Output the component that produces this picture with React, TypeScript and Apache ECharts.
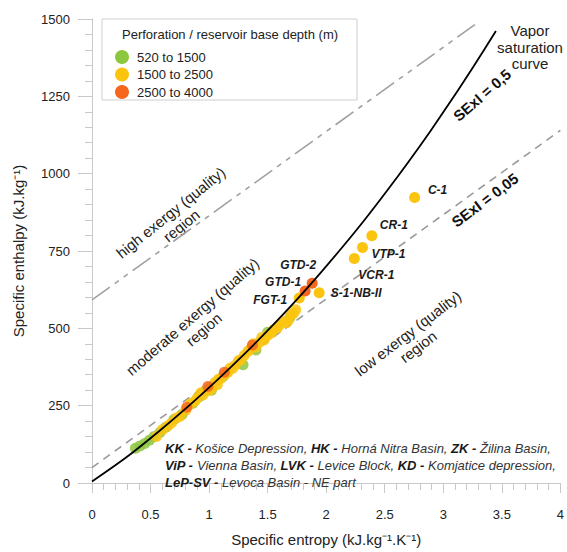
import React, { useEffect, useRef } from "react";
import * as echarts from "echarts";

const FONT = "'Liberation Sans', Arial, sans-serif";

// Tick labels / axis ranges
const xTicks = [0, 0.5, 1, 1.5, 2, 2.5, 3, 3.5, 4];
const yTicks = [0, 250, 500, 750, 1000, 1250, 1500];

// Depth classes (legend)
const depthClasses = ["520 to 1500", "1500 to 2500", "2500 to 4000"];
const depthColors = ["#8dc63f", "#fbc40f", "#f6661c"];

// Wells, [specific entropy, specific enthalpy]
const greenPoints: number[][] = [
  [0.37, 112], [0.41, 120], [0.45, 128], [0.49, 138], [0.53, 150], [0.58, 163],
  [0.63, 180], [0.7, 205], [0.77, 222], [0.86, 258], [0.92, 280], [0.97, 298],
  [1.02, 300], [1.12, 345], [1.29, 382], [1.4, 430], [1.5, 487], [1.69, 535],
];
const yellowPoints: number[][] = [
  [0.55, 150], [0.6, 172], [0.65, 185], [0.68, 195], [0.72, 210], [0.75, 215],
  [0.8, 235], [0.84, 255], [0.88, 265], [0.9, 275], [0.93, 292], [0.95, 285],
  [1.0, 300], [1.02, 305], [1.05, 325], [1.07, 318], [1.08, 335], [1.1, 338],
  [1.14, 352], [1.16, 358], [1.18, 372], [1.2, 370], [1.22, 380], [1.25, 395],
  [1.27, 398], [1.3, 412], [1.33, 425], [1.35, 432], [1.38, 450], [1.4, 440],
  [1.43, 455], [1.45, 470], [1.47, 462], [1.5, 478], [1.53, 485], [1.55, 495],
  [1.58, 500], [1.6, 510], [1.63, 522], [1.66, 518], [1.68, 528], [1.7, 545],
  [1.72, 548], [1.74, 560],
];
const orangePoints: number[][] = [
  [0.81, 245], [0.99, 312], [1.13, 358], [1.37, 446],
];

// Named wells
const namedWells = ["FGT-1", "S-1-NB-II", "VCR-1", "VTP-1", "CR-1", "C-1", "GTD-1", "GTD-2"];
const namedEntropy = [1.77, 1.94, 2.24, 2.31, 2.39, 2.755, 1.82, 1.88];
const namedEnthalpy = [598, 615, 726, 761, 799, 923, 621, 646];
const namedClass = [1, 1, 1, 1, 1, 1, 2, 2];

// Label placement (pixels), kept apart from data
const labelOffsets: Record<string, number[]> = {
  "FGT-1": [-29, 2],
  "S-1-NB-II": [37, 0],
  "VCR-1": [22, 17],
  "VTP-1": [26, 6],
  "CR-1": [22, -11],
  "C-1": [23, -7],
  "GTD-1": [-22, -9],
  "GTD-2": [-14, -18],
};

// Saturation curve (h-s)
const curveEntropy = [0, 0.2965, 0.5724, 0.8312, 1.0754, 1.3069, 1.5279, 1.7392, 1.9426, 2.1392, 2.3305, 2.5177, 2.702, 2.8849, 3.0685, 3.2552, 3.4494];
const curveEnthalpy = [5, 84, 167.5, 251, 335, 419, 504, 589, 675.5, 763, 852, 944, 1038, 1135, 1237, 1345, 1461];

// Exergy lines
const sexi005Line: number[][] = [[0, 50], [4, 1140]];
const highLine: number[][] = [[0, 592], [3.27, 1482]];

export default function App() {
  const ref = useRef<HTMLDivElement>(null);

  useEffect(() => {
    if (!ref.current) return;
    const chart = echarts.init(ref.current, undefined, { renderer: "svg" });

    const named = (cls: number) =>
      namedWells
        .map((n, i) => ({ n, i }))
        .filter(({ i }) => namedClass[i] === cls)
        .map(({ n, i }) => ({
          name: n,
          value: [namedEntropy[i], namedEnthalpy[i]],
          itemStyle: { opacity: 1 },
          label: {
            show: true,
            position: "inside",
            formatter: "{b}",
            offset: labelOffsets[n],
            color: "#1a1a1a",
            fontWeight: "bold",
            fontStyle: "italic",
            fontSize: 12,
            fontFamily: FONT,
            textBorderWidth: 0,
          },
        }));

    const clusters = [greenPoints, yellowPoints, orangePoints];

    const scatterSeries = depthClasses.map((name, k) => ({
      name,
      type: "scatter",
      symbol: "circle",
      symbolSize: 11,
      z: 3,
      itemStyle: { color: depthColors[k], opacity: 0.85 },
      data: [...clusters[k].map((p) => ({ value: p })), ...named(k)],
    }));

    const option: any = {
      animation: false,
      textStyle: { fontFamily: FONT },
      grid: { left: 92, right: 6, top: 19, bottom: 62 },
      legend: {
        data: depthClasses,
        orient: "vertical",
        left: 110,
        top: 45,
        itemWidth: 14,
        itemHeight: 14,
        itemGap: 3.5,
        icon: "circle",
        itemStyle: { opacity: 1 },
        textStyle: { fontSize: 13, color: "#222", fontFamily: FONT, padding: [0, 0, 0, 3] },
      },
      xAxis: {
        type: "value",
        min: xTicks[0],
        max: xTicks[xTicks.length - 1],
        interval: 0.5,
        name: "Specific entropy (kJ.kg\u207B\u00B9.K\u207B\u00B9)",
        nameLocation: "middle",
        nameGap: 49,
        nameTextStyle: { fontSize: 15, color: "#222", fontFamily: FONT },
        axisLine: { show: true, lineStyle: { color: "#c8c8c8", width: 1 } },
        axisTick: { show: true, length: 10, lineStyle: { color: "#c8c8c8" } },
        minorTick: { show: true, splitNumber: 5, length: 7, lineStyle: { color: "#c8c8c8" } },
        axisLabel: {
          fontSize: 13,
          color: "#222",
          margin: 25,
          fontFamily: FONT,
          formatter: (v: number) => String(v),
        },
        splitLine: { show: false },
      },
      yAxis: {
        type: "value",
        min: yTicks[0],
        max: yTicks[yTicks.length - 1],
        interval: 250,
        name: "Specific enthalpy (kJ.kg\u207B\u00B9)",
        nameLocation: "middle",
        nameGap: 66,
        nameTextStyle: { fontSize: 15, color: "#222", fontFamily: FONT },
        axisLine: { show: true, lineStyle: { color: "#c8c8c8", width: 1 } },
        axisTick: { show: true, length: 14, lineStyle: { color: "#c8c8c8" } },
        minorTick: { show: true, splitNumber: 5, length: 7, lineStyle: { color: "#c8c8c8" } },
        axisLabel: {
          fontSize: 13,
          color: "#222",
          margin: 22,
          fontFamily: FONT,
          formatter: (v: number) => String(v),
        },
        splitLine: { show: false },
      },
      series: [
        {
          name: "SExI = 0,05",
          type: "line",
          data: sexi005Line,
          symbol: "none",
          z: 2,
          lineStyle: { color: "#9a9a9a", width: 1.6, type: [8, 6] },
        },
        {
          name: "high",
          type: "line",
          data: highLine,
          symbol: "none",
          z: 2,
          lineStyle: { color: "#a0a0a0", width: 1.6, type: [22, 6, 5, 6, 5, 6] },
        },
        ...scatterSeries,
        {
          name: "Vapor saturation curve",
          type: "line",
          data: curveEntropy.map((s, i) => [s, curveEnthalpy[i]]),
          symbol: "none",
          smooth: 0.3,
          z: 4,
          lineStyle: { color: "#000", width: 1.8 },
        },
      ],
      graphic: [
        {
          type: "rect",
          z: 0,
          shape: { x: 102, y: 19, width: 255, height: 81 },
          style: { fill: "#fff", stroke: "#cfcfcf", lineWidth: 1 },
        },
        {
          type: "text",
          z: 1,
          x: 122,
          y: 34,
          style: {
            text: "Perforation / reservoir base depth (m)",
            fontSize: 13,
            fontFamily: FONT,
            fill: "#222",
            textVerticalAlign: "middle",
          },
        },
        {
          type: "text",
          x: 530,
          y: 47,
          style: {
            text: "Vapor\nsaturation\ncurve",
            fontSize: 15,
            lineHeight: 16.5,
            fontFamily: FONT,
            fill: "#222",
            textAlign: "center",
            textVerticalAlign: "middle",
          },
        },
        {
          type: "text",
          x: 482,
          y: 95,
          rotation: (41 * Math.PI) / 180,
          style: {
            text: "SExI = 0,5",
            fontSize: 15,
            fontWeight: "bold",
            fontFamily: FONT,
            fill: "#111",
            textAlign: "center",
            textVerticalAlign: "middle",
          },
        },
        {
          type: "text",
          x: 485,
          y: 200,
          rotation: (37 * Math.PI) / 180,
          style: {
            text: "SExI = 0,05",
            fontSize: 15,
            fontWeight: "bold",
            fontFamily: FONT,
            fill: "#111",
            textAlign: "center",
            textVerticalAlign: "middle",
          },
        },
        {
          type: "text",
          x: 176,
          y: 219,
          rotation: (39 * Math.PI) / 180,
          style: {
            text: "high exergy (quality)\nregion",
            fontSize: 15,
            lineHeight: 17,
            fontFamily: FONT,
            fill: "#222",
            textAlign: "center",
            textVerticalAlign: "middle",
          },
        },
        {
          type: "text",
          x: 198,
          y: 323,
          rotation: (41 * Math.PI) / 180,
          style: {
            text: "moderate exergy (quality)\nregion",
            fontSize: 15,
            lineHeight: 17,
            fontFamily: FONT,
            fill: "#222",
            textAlign: "center",
            textVerticalAlign: "middle",
          },
        },
        {
          type: "text",
          x: 413,
          y: 340,
          rotation: (37.5 * Math.PI) / 180,
          style: {
            text: "low exergy (quality)\nregion",
            fontSize: 15,
            lineHeight: 17,
            fontFamily: FONT,
            fill: "#222",
            textAlign: "center",
            textVerticalAlign: "middle",
          },
        },
        ...[
          "{b|KK -}{i| Košice Depression, }{b|HK -}{i| Horná Nitra Basin, }{b|ZK -}{i| Žilina Basin,}",
          "{b|ViP -}{i| Vienna Basin, }{b|LVK -}{i| Levice Block, }{b|KD -}{i| Komjatice depression,}",
          "{b|LeP-SV -}{i| Levoca Basin - NE part}",
        ].map((t, i) => ({
          type: "text",
          x: 165,
          y: 448 + i * 17,
          z: 10,
          style: {
            text: t,
            fontSize: 13,
            fontFamily: FONT,
            fill: "#222",
            textVerticalAlign: "middle",
            rich: {
              b: { fontSize: 13, fontFamily: FONT, fontWeight: "bold", fontStyle: "italic", fill: "#1a1a1a" },
              i: { fontSize: 13, fontFamily: FONT, fontStyle: "italic", fill: "#333" },
            },
          },
        })),
      ],
    };

    chart.setOption(option);
    return () => chart.dispose();
  }, []);

  return (
    <div
      ref={ref}
      style={{ position: "absolute", left: 0, top: 0, width: 567, height: 552 }}
    />
  );
}
